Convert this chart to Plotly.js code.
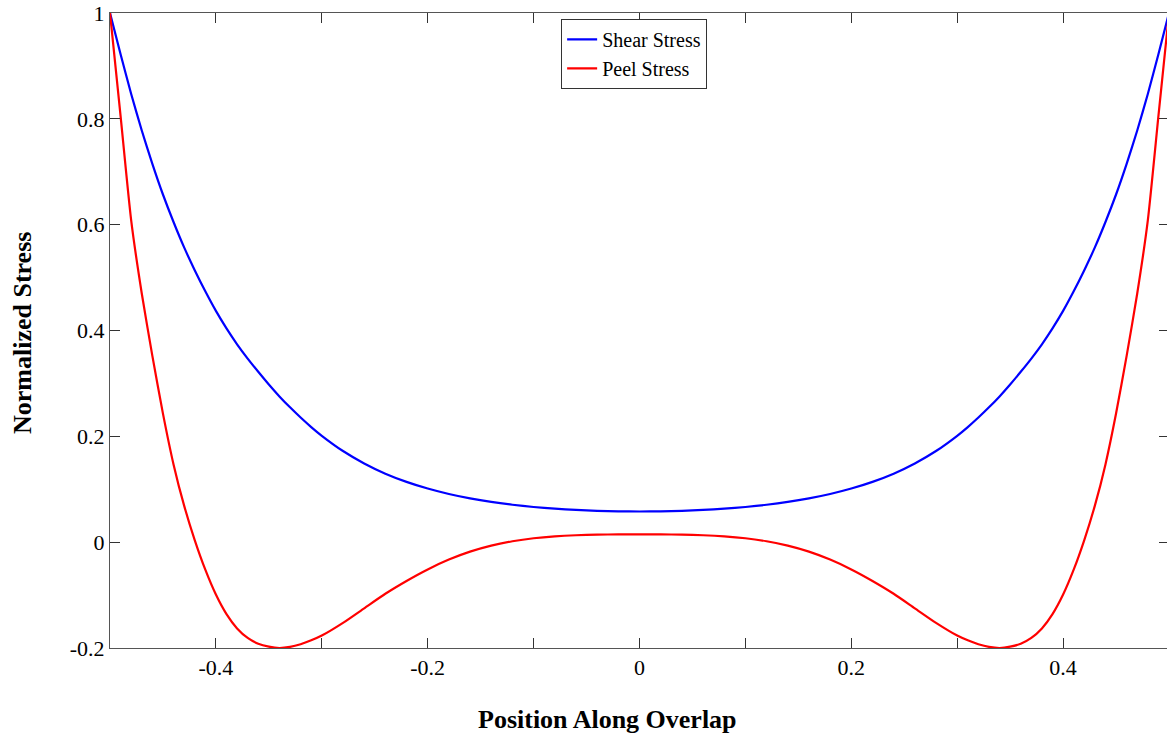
<!DOCTYPE html>
<html>
<head>
<meta charset="utf-8">
<script src="https://cdn.plot.ly/plotly-3.0.1.min.js"></script>
<style>
html, body { margin: 0; padding: 0; overflow: hidden; background: #fff; }
#chart { width: 1170px; height: 736px; }
</style>
</head>
<body>
<div id="chart"></div>
<script>
// Position along overlap (normalized)
const position = [
  -0.50, -0.49, -0.48, -0.47, -0.46, -0.45, -0.44, -0.43, -0.42, -0.41,
  -0.40, -0.39, -0.38, -0.37, -0.36, -0.35, -0.34, -0.33, -0.32, -0.31,
  -0.30, -0.28, -0.26, -0.24, -0.22, -0.20, -0.18, -0.16, -0.14, -0.12,
  -0.10, -0.08, -0.06, -0.04, -0.02, 0.00,
  0.02, 0.04, 0.06, 0.08, 0.10, 0.12, 0.14, 0.16, 0.18, 0.20,
  0.22, 0.24, 0.26, 0.28, 0.30,
  0.31, 0.32, 0.33, 0.34, 0.35, 0.36, 0.37, 0.38, 0.39, 0.40,
  0.41, 0.42, 0.43, 0.44, 0.45, 0.46, 0.47, 0.48, 0.49, 0.50
];

// Normalized shear stress
const shearStress = [
  1.000, 0.922, 0.847, 0.778, 0.715, 0.657, 0.605, 0.557, 0.514, 0.474,
  0.437, 0.404, 0.374, 0.347, 0.322, 0.298, 0.2755, 0.2548, 0.2355, 0.2175,
  0.2010, 0.1722, 0.1488, 0.1295, 0.1140, 0.1014, 0.0911, 0.0828, 0.0761, 0.0707,
  0.0665, 0.0633, 0.0609, 0.0593, 0.0583, 0.0580,
  0.0583, 0.0593, 0.0609, 0.0633, 0.0665, 0.0707, 0.0761, 0.0828, 0.0911, 0.1014,
  0.1140, 0.1295, 0.1488, 0.1722, 0.2010,
  0.2175, 0.2355, 0.2548, 0.2755, 0.298, 0.322, 0.347, 0.374, 0.404, 0.437,
  0.474, 0.514, 0.557, 0.605, 0.657, 0.715, 0.778, 0.847, 0.922, 1.000
];

// Normalized peel stress
const peelStress = [
  1.000, 0.805, 0.608, 0.470, 0.352, 0.243, 0.147, 0.069, 0.004, -0.052,
  -0.099, -0.136, -0.163, -0.181, -0.192, -0.1975, -0.200, -0.1978, -0.1928, -0.1855,
  -0.1765, -0.1525, -0.1250, -0.0975, -0.0733, -0.0515, -0.0329, -0.0179, -0.0065, 0.0017,
  0.0074, 0.0110, 0.0131, 0.0142, 0.0146, 0.0146,
  0.0146, 0.0142, 0.0131, 0.0110, 0.0074, 0.0017, -0.0065, -0.0179, -0.0329, -0.0515,
  -0.0733, -0.0975, -0.1250, -0.1525, -0.1765,
  -0.1855, -0.1928, -0.1978, -0.200, -0.1975, -0.192, -0.181, -0.163, -0.136, -0.099,
  -0.052, 0.004, 0.069, 0.147, 0.243, 0.352, 0.470, 0.608, 0.805, 1.000
];

const seriesNames = ['Shear Stress', 'Peel Stress'];
const xTickVals = [-0.4, -0.3, -0.2, -0.1, 0, 0.1, 0.2, 0.3, 0.4];
const xTickText = ['-0.4', '', '-0.2', '', '0', '', '0.2', '', '0.4'];
const yTickVals = [-0.2, 0, 0.2, 0.4, 0.6, 0.8, 1];
const yTickText = ['-0.2', '0', '0.2', '0.4', '0.6', '0.8', '1'];
const xTitle = 'Position Along Overlap';
const yTitle = 'Normalized Stress';

const FONT = 'Liberation Serif, Times New Roman, serif';

const traces = [
  { x: position, y: shearStress, name: seriesNames[0], type: 'scatter', mode: 'lines',
    line: { color: '#0000ff', width: 2.2, shape: 'spline', smoothing: 0.6 } },
  { x: position, y: peelStress, name: seriesNames[1], type: 'scatter', mode: 'lines',
    line: { color: '#ff0000', width: 2.2, shape: 'spline', smoothing: 0.6 } }
];

const axisCommon = {
  ticks: 'inside', ticklen: 10, tickwidth: 1, tickcolor: '#333',
  showline: true, linewidth: 1, mirror: 'ticks',
  showgrid: false, zeroline: false,
  tickfont: { family: FONT, size: 22, color: '#000' }
};

const layout = {
  width: 1170, height: 736,
  margin: { l: 110, r: 1, t: 13, b: 88, pad: 0 },
  paper_bgcolor: '#fff', plot_bgcolor: '#fff',
  font: { family: FONT, color: '#000' },
  showlegend: true,
  xaxis: Object.assign({}, axisCommon, {
    range: [-0.5, 0.5], tickmode: 'array', tickvals: xTickVals, ticktext: xTickText,
    linecolor: '#555'
  }),
  yaxis: Object.assign({}, axisCommon, {
    range: [-0.2, 1], tickmode: 'array', tickvals: yTickVals, ticktext: yTickText,
    linecolor: '#555'
  }),
  legend: {
    x: 0.426, y: 0.9906, xanchor: 'left', yanchor: 'top',
    bgcolor: '#fff', bordercolor: '#333', borderwidth: 1,
    font: { family: FONT, size: 20, color: '#000' }
  },
  annotations: [
    { text: '<b>' + xTitle + '</b>', xref: 'paper', yref: 'paper',
      x: 0.4698, y: -0.112, xanchor: 'center', yanchor: 'middle', showarrow: false,
      font: { family: FONT, size: 26, color: '#000' } },
    { text: '<b>' + yTitle + '</b>', xref: 'paper', yref: 'paper', textangle: -90,
      x: -0.0831, y: 0.496, xanchor: 'center', yanchor: 'middle', showarrow: false,
      font: { family: FONT, size: 26, color: '#000' } }
  ]
};

Plotly.newPlot('chart', traces, layout, { displayModeBar: false, staticPlot: true });
</script>
</body>
</html>
